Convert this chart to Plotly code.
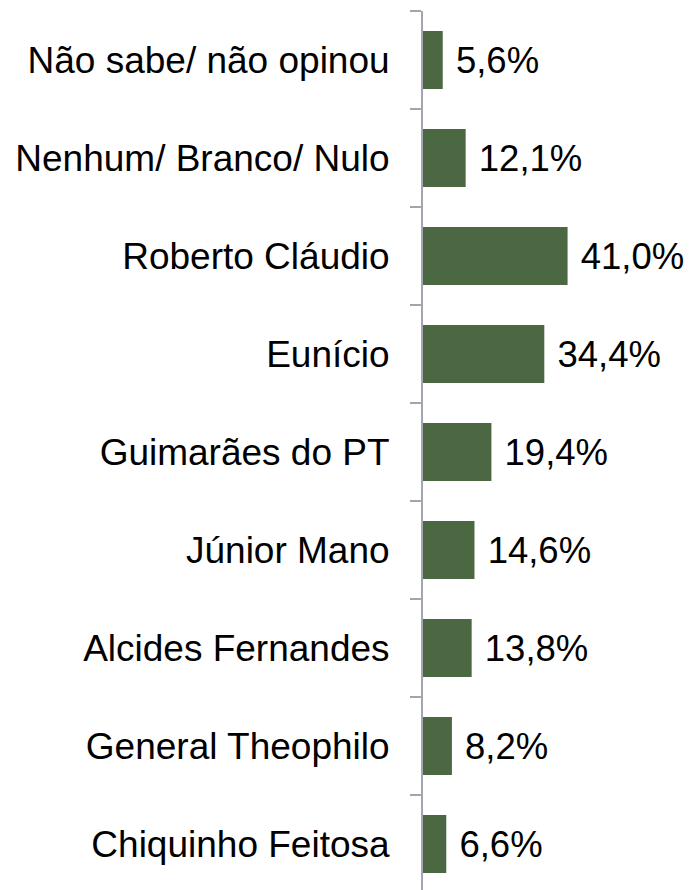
import plotly.graph_objects as go

categories = ["Chiquinho Feitosa", "General Theophilo", "Alcides Fernandes", "Júnior Mano",
              "Guimarães do PT", "Eunício", "Roberto Cláudio", "Nenhum/ Branco/ Nulo",
              "Não sabe/ não opinou"]
values = [6.6, 8.2, 13.8, 14.6, 19.4, 34.4, 41.0, 12.1, 5.6]
labels = ["\u00a0" + f"{v:.1f}".replace(".", ",") + "%" for v in values]

fig = go.Figure(go.Bar(
    y=categories, x=values, orientation="h",
    marker=dict(color="#4B6842", line=dict(width=0)),
    text=labels, textposition="outside", constraintext="none",
    textfont=dict(family="Liberation Sans, Arial", size=36.5, color="#000000"),
    cliponaxis=False,
))

fig.update_layout(
    width=691, height=890,
    margin=dict(l=423, r=0, t=11, b=0),
    plot_bgcolor="white", paper_bgcolor="white",
    bargap=0.41, showlegend=False,
    font=dict(family="Liberation Sans, Arial", color="#000000"),
)
fig.update_xaxes(range=[0, 76.0], visible=False, showgrid=False, zeroline=False)
fig.update_yaxes(
    type="category", categoryorder="array", categoryarray=categories,
    range=[-0.469, 8.5],
    showline=True, linecolor="#A2A6AE", linewidth=2,
    ticks="outside", ticklen=11, tickwidth=2, tickcolor="#A2A6AE",
    tickson="boundaries", showgrid=False, zeroline=False,
    tickfont=dict(family="Liberation Sans, Arial", size=37, color="#000000"),
    ticklabelstandoff=24,
)

fig.write_html("out.html")
